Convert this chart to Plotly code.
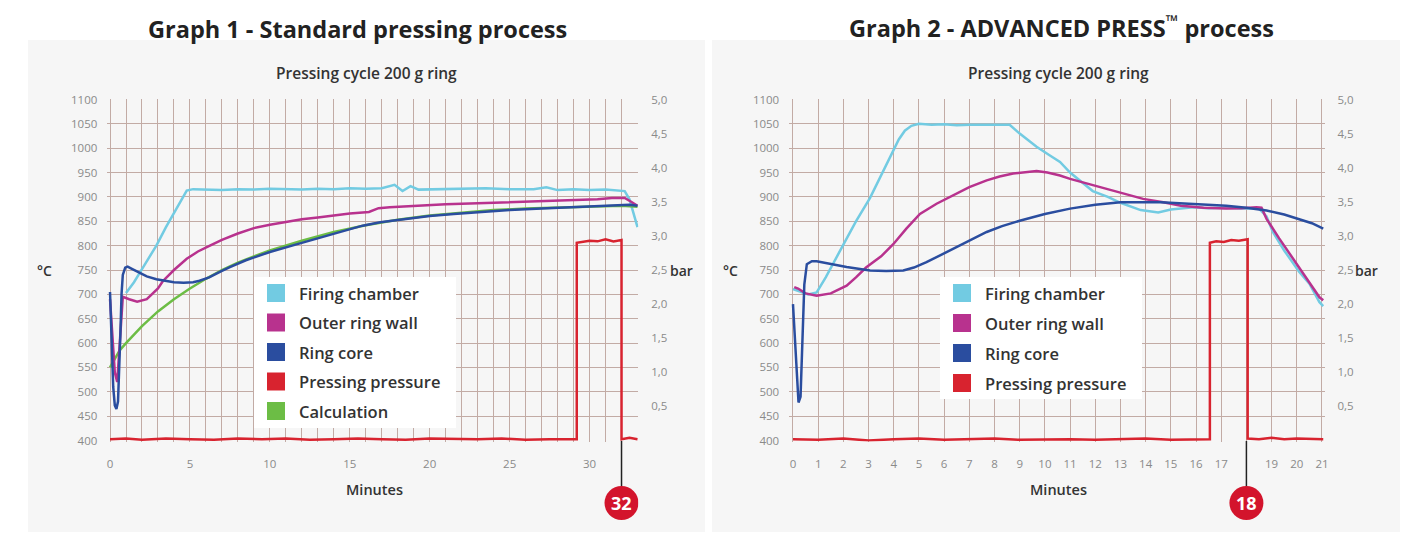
import plotly.graph_objects as go

W, H = 1413, 534

# ---------------- DATA ----------------
# Graph 1 - Standard pressing process (minutes, °C / bar)
fc1_x = [1.0, 1.5, 2.0, 2.5, 2.9, 3.5, 4.0, 4.5, 4.8, 5.2, 6.0, 7.0, 8.0, 9.0, 10.0, 11.0, 12.0, 13.0, 14.0, 15.0,
         16.0, 17.0, 17.8, 18.3, 18.8, 19.3, 20.5, 22.0, 23.5, 25.0, 26.5, 27.3, 28.0, 29.0, 30.0, 31.0, 31.8,
         32.2, 32.5, 32.8, 33.0]
fc1_y = [703, 725, 752, 778, 800, 838, 866, 895, 913, 916, 915, 914, 916, 915, 917, 916, 915, 917, 916, 918,
         917, 918, 925, 912, 922, 915, 916, 917, 918, 916, 916, 920, 914, 916, 914, 915, 914,
         912, 895, 860, 838]

ow1_x = [0.0, 0.15, 0.3, 0.45, 0.6, 0.8, 1.2, 1.7, 2.3, 3.0, 3.3, 4.0, 4.8, 5.5, 6.25, 7.0, 8.0, 9.0, 10.0, 11.0,
         12.0, 13.0, 14.0, 15.0, 16.2, 16.8, 17.5, 19.0, 21.0, 23.0, 25.0, 27.0, 29.0, 30.5, 31.4, 32.2, 32.6, 33.0]
ow1_y = [690, 620, 540, 520, 600, 695, 690, 685, 690, 712, 727, 750, 773, 788, 800, 812, 825, 836, 843, 849,
         854, 858, 862, 866, 869, 877, 879, 882, 885, 887, 889, 891, 893, 895, 898, 898, 890, 882]

rc1_x = [0.0, 0.05, 0.12, 0.2, 0.3, 0.4, 0.5, 0.58, 0.65, 0.72, 0.8, 0.95, 1.1, 1.4, 1.8, 2.3, 2.9, 3.5, 4.0, 4.6,
         5.2, 5.6, 6.2, 7.0, 7.5, 8.5, 10.0, 11.5, 12.9, 14.5, 15.8, 16.9, 18.5, 20.0, 21.5, 23.1, 25.0, 27.0,
         29.0, 31.0, 32.0, 32.5, 33.0]
rc1_y = [705, 660, 580, 510, 472, 465, 480, 540, 620, 700, 740, 755, 757, 752, 745, 737, 731, 727, 725, 724,
         725, 728, 735, 748, 756, 770, 787, 801, 814, 829, 841, 848, 855, 861, 865, 869, 873, 876,
         879, 881, 883, 884, 882]

pp1_x = [0, 1, 2, 3.5, 5, 6.5, 8, 9.5, 11, 12.5, 14, 15.5, 17, 18.5, 20, 21.5, 23, 24.5, 26, 27.5, 29.2,
         29.2, 29.5, 30.0, 30.5, 31.0, 31.5, 32.0, 32.0, 32.5, 33.0]
pp1_y = [0.02, 0.03, 0.01, 0.03, 0.02, 0.01, 0.03, 0.02, 0.03, 0.01, 0.02, 0.03, 0.02, 0.01, 0.03, 0.02,
         0.02, 0.03, 0.01, 0.02, 0.02, 2.90, 2.91, 2.93, 2.92, 2.95, 2.92, 2.94, 0.02, 0.04, 0.02]

calc1_x = [0.0, 0.6, 1.0, 2.0, 3.0, 4.0, 5.0, 6.0, 7.0, 8.0, 9.0, 10.0, 12.0, 14.0, 16.0, 18.0, 20.0, 22.0,
           24.0, 26.0, 28.0, 30.0, 32.0, 33.0]
calc1_y = [550, 585, 600, 635, 665, 690, 712, 732, 750, 765, 778, 790, 810, 828, 842, 853, 862, 868,
           873, 876, 878, 880, 882, 880]

# Graph 2 - ADVANCED PRESS process
fc2_x = [0.0, 0.3, 0.6, 0.94, 1.3, 2.0, 2.5, 3.06, 3.5, 3.98, 4.2, 4.44, 4.7, 5.0, 5.5, 6.0, 6.5, 7.0, 7.5,
         8.0, 8.6, 9.0, 9.67, 10.2, 10.6, 11.0, 11.5, 11.9, 12.5, 13.0, 13.8, 14.5, 15.0, 15.9, 16.5, 17.2,
         17.8, 18.5, 18.8, 19.05, 19.5, 20.1, 20.5, 20.9, 21.05]
fc2_y = [711, 706, 700, 704, 735, 802, 850, 898, 945, 995, 1018, 1036, 1046, 1050, 1048, 1049, 1047, 1048,
         1048, 1049, 1048, 1030, 1003, 985, 972, 950, 928, 912, 900, 888, 873, 868, 874, 879, 877, 878,
         876, 876, 860, 828, 790, 746, 722, 684, 676]

ow2_x = [0.05, 0.2, 0.5, 0.94, 1.5, 2.13, 2.5, 2.9, 3.5, 3.98, 4.5, 5.04, 5.7, 6.36, 7.0, 7.69, 8.2, 8.74,
         9.2, 9.67, 10.1, 10.6, 11.0, 12.0, 13.0, 13.9, 14.7, 15.4, 16.3, 17.2, 17.8, 18.4, 18.6, 18.8,
         19.3, 19.85, 20.4, 20.9, 21.05]
ow2_y = [715, 712, 702, 697, 702, 718, 735, 755, 778, 803, 835, 865, 886, 903, 920, 934, 942, 948,
         950, 953, 950, 944, 937, 923, 908, 896, 889, 882, 878, 876, 877, 879, 878, 855,
         815, 773, 730, 694, 688]

rc2_x = [0.0, 0.08, 0.15, 0.22, 0.3, 0.38, 0.45, 0.55, 0.75, 0.94, 1.5, 2.13, 3.06, 3.7, 4.38, 4.8, 5.3,
         5.8, 6.36, 7.0, 7.69, 8.3, 9.0, 10.0, 11.0, 12.0, 13.0, 14.6, 16.0, 17.2, 18.0, 18.8, 19.5,
         20.1, 20.6, 21.05]
rc2_y = [680, 600, 520, 478, 490, 600, 720, 762, 768, 768, 762, 756, 749, 748, 749, 755, 766,
         779, 793, 810, 828, 840, 851, 865, 876, 884, 889, 889, 886, 882, 878, 872, 864,
         855, 846, 835]

pp2_x = [0, 1, 2, 3, 4, 5, 6, 7, 8, 9, 10, 11, 12, 13, 14, 15, 16, 16.55, 16.55, 16.8, 17.1, 17.4, 17.7,
         18.05, 18.05, 18.5, 19, 19.5, 20, 20.5, 21.05]
pp2_y = [0.02, 0.01, 0.03, 0.0, 0.02, 0.03, 0.01, 0.02, 0.03, 0.01, 0.02, 0.02, 0.01, 0.02, 0.03, 0.01,
         0.02, 0.02, 2.90, 2.92, 2.91, 2.94, 2.93, 2.95, 0.03, 0.02, 0.04, 0.02, 0.03, 0.02, 0.02]

temp_ticks = list(range(400, 1101, 50))
bar_ticks = [0.5, 1.0, 1.5, 2.0, 2.5, 3.0, 3.5, 4.0, 4.5, 5.0]
bar_labels = ["0,5", "1,0", "1,5", "2,0", "2,5", "3,0", "3,5", "4,0", "4,5", "5,0"]
x1_ticks = [0, 5, 10, 15, 20, 25, 30]
x2_ticks = [0, 1, 2, 3, 4, 5, 6, 7, 8, 9, 10, 11, 12, 13, 14, 15, 16, 17, 19, 20, 21]

series_names = ["Firing chamber", "Outer ring wall", "Ring core", "Pressing pressure", "Calculation"]
series_colors = ["#72cbe2", "#b8328e", "#2a4d9f", "#d8232f", "#6cbd45"]
end_marks = [32, 18]

# ---------------- FIGURE ----------------
FONT = "Open Sans"
OFF = 8  # page offset of the plot div
def px(xp):
    return (xp - OFF) / W
def py(yp):
    return 1 - (yp - OFF) / H

fig = go.Figure()

def line(x, y, color, xa, ya, w=2.5):
    fig.add_trace(go.Scatter(x=x, y=y, mode="lines", line=dict(color=color, width=w),
                             xaxis=xa, yaxis=ya, showlegend=False, hoverinfo="skip"))

line(fc1_x, fc1_y, series_colors[0], "x", "y")
line(calc1_x, calc1_y, series_colors[4], "x", "y")
line(ow1_x, ow1_y, series_colors[1], "x", "y")
line(rc1_x, rc1_y, series_colors[2], "x", "y")
line(pp1_x, pp1_y, series_colors[3], "x", "y2")

line(fc2_x, fc2_y, series_colors[0], "x2", "y3")
line(ow2_x, ow2_y, series_colors[1], "x2", "y3")
line(rc2_x, rc2_y, series_colors[2], "x2", "y3")
line(pp2_x, pp2_y, series_colors[3], "x2", "y4")

T_LO, T_HI = 398, 1101
B_LO, B_HI = (T_LO - 400) / 140, (T_HI - 400) / 140
ydom = [py(441.5), py(99.0)]
x1dom = [px(107.3), px(638.3)]
x2dom = [px(789.2), px(1324.5)]

grid = "#c2aba5"
tickfont = dict(family=FONT, size=11.5, color="#8a8a8a")
minor_grid = dict(dtick=1, tick0=0, showgrid=True, gridcolor=grid, gridwidth=1.2, ticks="")

xcommon = dict(showgrid=True, gridcolor=grid, gridwidth=1.2, zeroline=False, showline=False,
               ticks="", tickfont=tickfont, tickmode="array", ticklabelstandoff=14, fixedrange=True,
               automargin=False, minor=minor_grid)
ycommon = dict(showgrid=True, gridcolor=grid, gridwidth=1.2, zeroline=False, showline=False,
               ticks="", tickfont=tickfont, tickmode="array", tickvals=temp_ticks,
               ticktext=[str(v) for v in temp_ticks], range=[T_LO, T_HI], domain=ydom,
               ticklabelstandoff=9, automargin=False, fixedrange=True)
bcommon = dict(showgrid=False, zeroline=False, showline=False, ticks="", tickfont=tickfont,
               tickmode="array", tickvals=bar_ticks, ticktext=bar_labels, range=[B_LO, B_HI],
               side="right", ticklabelstandoff=12, automargin=False, fixedrange=True)

fig.update_layout(
    width=W, height=H, margin=dict(l=0, r=0, t=0, b=0, pad=0, autoexpand=False),
    paper_bgcolor="white", plot_bgcolor="#e3e6e9",
    font=dict(family=FONT, color="#333"),
    xaxis=dict(domain=x1dom, range=[-0.17, 33.05], tickvals=x1_ticks,
               ticktext=[str(v) for v in x1_ticks], anchor="y", **xcommon),
    yaxis=dict(anchor="x", **ycommon),
    yaxis2=dict(anchor="x", overlaying="y", **bcommon),
    xaxis2=dict(domain=x2dom, range=[-0.15, 21.1], tickvals=x2_ticks,
                ticktext=[str(v) for v in x2_ticks], anchor="y3", **xcommon),
    yaxis3=dict(anchor="x2", **ycommon),
    yaxis4=dict(anchor="x2", overlaying="y3", **bcommon),
)

shapes = []
anns = []
# light panels
for (a, b) in [(28, 705), (712, 1400)]:
    shapes.append(dict(type="rect", xref="paper", yref="paper", x0=px(a), x1=px(b), y0=py(532), y1=py(40),
                       fillcolor="#f6f6f6", line=dict(width=0), layer="below"))

def text(s, xp, yp, size, color="#333", weight=600, xanchor="center"):
    anns.append(dict(text=s, x=px(xp), y=py(yp), xref="paper", yref="paper", showarrow=False,
                     xanchor=xanchor, yanchor="middle",
                     font=dict(family=FONT, size=size, color=color, weight=weight)))

text("Graph 1 - Standard pressing process", 357, 29, 23.5, "#222", 700)
text("Graph 2 - ADVANCED PRESS<sup>™</sup> process", 1061, 27, 23.5, "#222", 700)
text("Pressing cycle 200 g ring", 366, 73, 15.5, "#333", 600)
text("Pressing cycle 200 g ring", 1058, 73, 15.5, "#333", 600)
text("Minutes", 374, 489, 14.5, "#333", 600)
text("Minutes", 1058, 489, 14.5, "#333", 600)
text("°C", 44, 270, 14, "#333", 600)
text("°C", 730, 270, 14, "#333", 600)
text("bar", 681, 270, 14, "#333", 600)
text("bar", 1366, 270, 14, "#333", 600)

# legends
def legend(x0, y0, x1, y1, sq_x, txt_x, rows, n):
    shapes.append(dict(type="rect", xref="paper", yref="paper", x0=px(x0), x1=px(x1), y0=py(y1), y1=py(y0),
                       fillcolor="white", line=dict(width=0)))
    for i in range(n):
        yc = rows[i]
        shapes.append(dict(type="rect", xref="paper", yref="paper", x0=px(sq_x - 9), x1=px(sq_x + 9),
                           y0=py(yc + 9), y1=py(yc - 9), fillcolor=series_colors[i], line=dict(width=0)))
        text(series_names[i], txt_x, yc, 16.5, "#333", 600, "left")

legend(254, 277, 456, 428, 276, 297, [293, 322.5, 352, 381.5, 411], 5)
legend(940, 277, 1142, 399, 962, 983, [293, 323, 353, 383], 4)

# end-of-pressing markers
for xa, mark in [("x", end_marks[0]), ("x2", end_marks[1])]:
    shapes.append(dict(type="line", xref=xa, yref="paper", x0=mark, x1=mark, y0=py(441), y1=py(487),
                       line=dict(color="#222", width=1.5)))
    shapes.append(dict(type="circle", xref=xa, yref="paper", xsizemode="pixel", ysizemode="pixel",
                       xanchor=mark, yanchor=py(503), x0=-17, x1=17, y0=-17, y1=17,
                       fillcolor="#d3142c", line=dict(color="#d3142c", width=0)))
    anns.append(dict(text=str(mark), x=mark, y=py(503), xref=xa, yref="paper", showarrow=False,
                     xanchor="center", yanchor="middle",
                     font=dict(family=FONT, size=18, color="white", weight=700)))

fig.update_layout(shapes=shapes, annotations=anns)
fig.write_html("out.html")
